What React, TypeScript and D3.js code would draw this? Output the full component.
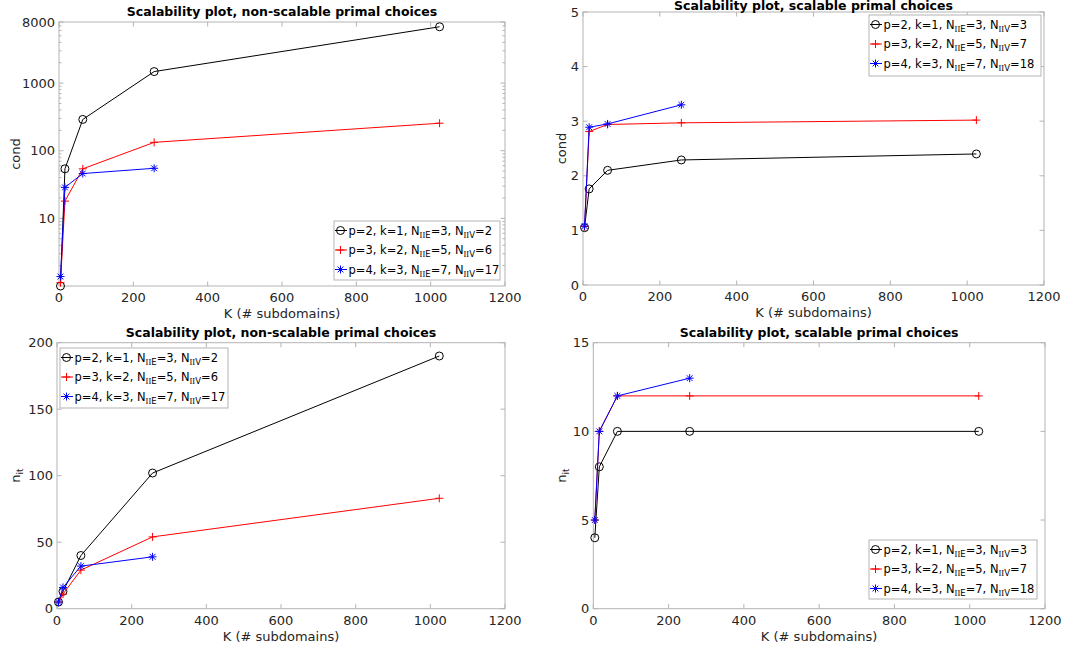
import React from "react";
import * as d3 from "d3";

// ---------- data ----------
const K = [4, 16, 64, 256, 1024];
const K_P4 = [4, 16, 64, 256];

const condNS_p2 = [1.0, 54, 290, 1480, 6800];
const condNS_p3 = [1.12, 18, 54, 133, 255];
const condNS_p4 = [1.38, 28.7, 46, 55];

const condS_p2 = [1.05, 1.76, 2.1, 2.29, 2.4];
const condS_p3 = [1.07, 2.81, 2.94, 2.97, 3.02];
const condS_p4 = [1.08, 2.89, 2.95, 3.3];

const itNS_p2 = [5, 13, 40, 102, 190];
const itNS_p3 = [5, 11, 29, 54, 83];
const itNS_p4 = [5, 16, 32, 39];

const itS_p2 = [4, 8, 10, 10, 10];
const itS_p3 = [5, 10, 12, 12, 12];
const itS_p4 = [5, 10, 12, 13];

const legendP = [2, 3, 4];
const legendK = [1, 2, 3];
const legendNIIE = [3, 5, 7];
const legendNIIV_NS = [2, 6, 17];
const legendNIIV_S = [3, 7, 18];

const xTicks = [0, 200, 400, 600, 800, 1000, 1200];
const yTicksCondNS = [10, 100, 1000, 8000];
const yTicksCondS = [0, 1, 2, 3, 4, 5];
const yTicksItNS = [0, 50, 100, 150, 200];
const yTicksItS = [0, 5, 10, 15];

const titleNS = "Scalability plot, non-scalable primal choices";
const titleS = "Scalability plot, scalable primal choices";
const xLabel = "K (# subdomains)";

const COLORS = ["#000000", "#ff0000", "#0000ff"];
const MARKERS = ["circle", "plus", "star"];
const FONT = "'DejaVu Sans', sans-serif";
const TICKC = "#262626";
const BOXC = "#b3b3b3";

function Marker({ type, x, y, color }: any) {
  const r = 4;
  if (type === "circle")
    return <circle cx={x} cy={y} r={r} fill="none" stroke={color} strokeWidth={1} />;
  if (type === "plus")
    return (
      <path
        d={`M${x - r},${y}H${x + r}M${x},${y - r}V${y + r}`}
        stroke={color}
        strokeWidth={1}
        fill="none"
      />
    );
  const d = r * 0.72;
  return (
    <path
      d={`M${x - r},${y}H${x + r}M${x},${y - r}V${y + r}M${x - d},${y - d}L${x + d},${y + d}M${x - d},${y + d}L${x + d},${y - d}`}
      stroke={color}
      strokeWidth={1}
      fill="none"
    />
  );
}

function LegendLabel({ x, y, p, k, e, v }: any) {
  const sub = 8.5;
  return (
    <text x={x} y={y} fontFamily={FONT} fontSize={11.5} fill="#000">
      <tspan>{`p=${p}, k=${k}, N`}</tspan>
      <tspan dy={3} fontSize={sub} fontFamily="'Liberation Serif', serif">II</tspan>
      <tspan fontSize={sub}>E</tspan>
      <tspan dy={-3}>{`=${e}, N`}</tspan>
      <tspan dy={3} fontSize={sub} fontFamily="'Liberation Serif', serif">II</tspan>
      <tspan fontSize={sub}>V</tspan>
      <tspan dy={-3}>{`=${v}`}</tspan>
    </text>
  );
}

function Panel({ box, log, yDomain, yTicks, series, title, titleY, yLabel, yLabelX, legend, nIIV }: any) {
  const [x0, x1, yb, yt] = box;
  const xs = d3.scaleLinear().domain([0, 1200]).range([x0, x1]);
  const ys = log
    ? d3.scaleLog().domain(yDomain).range([yb, yt])
    : d3.scaleLinear().domain(yDomain).range([yb, yt]);
  const tl = 4.5;
  const minor: number[] = [];
  if (log) {
    for (let e = 0; e < 4; e++)
      for (let m = 2; m <= 9; m++) {
        const v = m * Math.pow(10, e);
        if (v < yDomain[1]) minor.push(v);
      }
  }
  const line = d3
    .line<[number, number]>()
    .x((d) => xs(d[0]))
    .y((d) => ys(d[1]));
  const [lx, ly, lw, lh] = legend;
  return (
    <g>
      <rect x={x0} y={yt} width={x1 - x0} height={yb - yt} fill="#fff" stroke={BOXC} strokeWidth={1} />
      {xTicks.map((t) => (
        <g key={"x" + t}>
          <line x1={xs(t)} x2={xs(t)} y1={yb} y2={yb - tl} stroke={BOXC} />
          <line x1={xs(t)} x2={xs(t)} y1={yt} y2={yt + tl} stroke={BOXC} />
          <text x={xs(t)} y={yb + 16} textAnchor="middle" fontFamily={FONT} fontSize={13} fill={TICKC}>
            {t}
          </text>
        </g>
      ))}
      {yTicks.map((t: number) => (
        <g key={"y" + t}>
          <line x1={x0} x2={x0 + tl} y1={ys(t)} y2={ys(t)} stroke={BOXC} />
          <line x1={x1} x2={x1 - tl} y1={ys(t)} y2={ys(t)} stroke={BOXC} />
          <text x={x0 - 4} y={ys(t) + 4.5} textAnchor="end" fontFamily={FONT} fontSize={13} fill={TICKC}>
            {t}
          </text>
        </g>
      ))}
      {minor.map((t) => (
        <g key={"m" + t}>
          <line x1={x0} x2={x0 + 2.5} y1={ys(t)} y2={ys(t)} stroke={BOXC} />
          <line x1={x1} x2={x1 - 2.5} y1={ys(t)} y2={ys(t)} stroke={BOXC} />
        </g>
      ))}
      <text x={(x0 + x1) / 2} y={titleY ?? yt - 6} textAnchor="middle" fontFamily={FONT} fontSize={12.5} fontWeight="bold" fill="#000">
        {title}
      </text>
      <text x={(x0 + x1) / 2} y={yb + 32} textAnchor="middle" fontFamily={FONT} fontSize={13} fill={TICKC}>
        {xLabel}
      </text>
      <g transform={`translate(${yLabelX},${(yb + yt) / 2}) rotate(-90)`}>
        {yLabel === "cond" ? (
          <text x={0} y={4} textAnchor="middle" fontFamily={FONT} fontSize={13} fill={TICKC}>
            cond
          </text>
        ) : (
          <text x={0} y={4} textAnchor="middle" fontFamily={FONT} fontSize={13} fill={TICKC}>
            <tspan>n</tspan>
            <tspan dy={3} fontSize={9}>it</tspan>
          </text>
        )}
      </g>
      {series.map((s: any, i: number) => {
        const pts: [number, number][] = s.x.map((xv: number, j: number) => [xv, s.y[j]]);
        return (
          <g key={"s" + i}>
            <path d={line(pts) || ""} fill="none" stroke={COLORS[i]} strokeWidth={1} />
            {pts.map((p, j) => (
              <Marker key={j} type={MARKERS[i]} x={xs(p[0])} y={ys(p[1])} color={COLORS[i]} />
            ))}
          </g>
        );
      })}
      <rect x={lx} y={ly} width={lw} height={lh} fill="#fff" stroke={BOXC} strokeWidth={1} />
      {legendP.map((p, i) => {
        const cy = ly + 9.5 + i * 19.5;
        return (
          <g key={"l" + i}>
            <line x1={lx + 1} x2={lx + 13} y1={cy} y2={cy} stroke={COLORS[i]} />
            <Marker type={MARKERS[i]} x={lx + 6.5} y={cy} color={COLORS[i]} />
            <LegendLabel x={lx + 14.5} y={cy + 4} p={p} k={legendK[i]} e={legendNIIE[i]} v={nIIV[i]} />
          </g>
        );
      })}
    </g>
  );
}

export default function App() {
  return (
    <svg
      width={1089}
      height={652}
      style={{ position: "absolute", left: 0, top: 0, background: "#fff" }}
    >
      <rect width={1089} height={652} fill="#fff" />
      <Panel
        box={[59, 505, 286, 22]}
        log={true}
        yDomain={[1, 8000]}
        yTicks={yTicksCondNS}
        series={[
          { x: K, y: condNS_p2 },
          { x: K, y: condNS_p3 },
          { x: K_P4, y: condNS_p4 },
        ]}
        title={titleNS}
        yLabel="cond"
        yLabelX={16}
        legend={[334, 221, 166, 59]}
        nIIV={legendNIIV_NS}
      />
      <Panel
        box={[583, 1044, 285, 12]}
        log={false}
        yDomain={[0, 5]}
        yTicks={yTicksCondS}
        series={[
          { x: K, y: condS_p2 },
          { x: K, y: condS_p3 },
          { x: K_P4, y: condS_p4 },
        ]}
        title={titleS}
        titleY={9.5}
        yLabel="cond"
        yLabelX={562}
        legend={[869, 15, 172, 61]}
        nIIV={legendNIIV_S}
      />
      <Panel
        box={[57, 505, 608.7, 342.7]}
        log={false}
        yDomain={[0, 200]}
        yTicks={yTicksItNS}
        series={[
          { x: K, y: itNS_p2 },
          { x: K, y: itNS_p3 },
          { x: K_P4, y: itNS_p4 },
        ]}
        title={titleNS}
        yLabel="nit"
        yLabelX={16}
        legend={[60, 348, 168, 60]}
        nIIV={legendNIIV_NS}
      />
      <Panel
        box={[593.3, 1045, 608.7, 342.7]}
        log={false}
        yDomain={[0, 15]}
        yTicks={yTicksItS}
        series={[
          { x: K, y: itS_p2 },
          { x: K, y: itS_p3 },
          { x: K_P4, y: itS_p4 },
        ]}
        title={titleS}
        yLabel="nit"
        yLabelX={562}
        legend={[869, 540, 168, 59]}
        nIIV={legendNIIV_S}
      />
    </svg>
  );
}
